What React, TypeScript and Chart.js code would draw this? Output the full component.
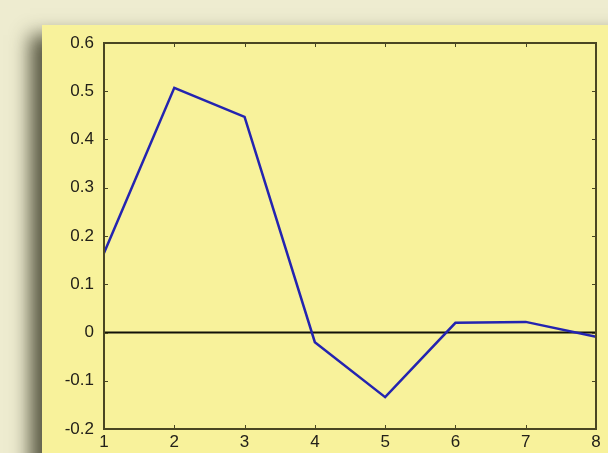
import React, { useEffect, useRef } from "react";
import { Chart, registerables } from "chart.js";

Chart.register(...registerables);

// Sample index on the horizontal axis and the measured response at each one
const xValues = [1, 2, 3, 4, 5, 6, 7, 8];
const yValues = [0.165, 0.507, 0.447, -0.02, -0.134, 0.02, 0.022, -0.009];

const xTicks = [1, 2, 3, 4, 5, 6, 7, 8];
const yTicks = [-0.2, -0.1, 0, 0.1, 0.2, 0.3, 0.4, 0.5, 0.6];

const PAGE_BG = "#eeecd0";
const PANEL_BG = "#f8f29b";
const AXIS_COLOR = "#4a4622";
const LINE_COLOR = "#2424b0";
const TEXT_COLOR = "#23211a";

// Paints the page background, the shaded yellow panel, the zero line,
// the frame round the plot and the inward tick marks.
const framePlugin = {
  id: "frame",
  beforeDraw(chart: any) {
    const { ctx, width, height } = chart;
    ctx.save();
    ctx.fillStyle = PAGE_BG;
    ctx.fillRect(0, 0, width, height);
    ctx.shadowColor = "rgba(50,50,30,0.8)";
    ctx.shadowBlur = 18;
    ctx.shadowOffsetX = -12;
    ctx.shadowOffsetY = 10;
    ctx.fillStyle = PANEL_BG;
    ctx.fillRect(42, 25, width - 42 + 40, height - 25 + 40);
    ctx.restore();
  },
  beforeDatasetsDraw(chart: any) {
    const { ctx, chartArea, scales } = chart;
    const y0 = scales.y.getPixelForValue(0);
    ctx.save();
    ctx.strokeStyle = "#111108";
    ctx.lineWidth = 2;
    ctx.beginPath();
    ctx.moveTo(chartArea.left, y0);
    ctx.lineTo(chartArea.right, y0);
    ctx.stroke();
    ctx.restore();
  },
  afterDraw(chart: any) {
    const { ctx, chartArea, scales } = chart;
    const { left, right, top, bottom } = chartArea;
    ctx.save();
    ctx.strokeStyle = AXIS_COLOR;
    ctx.lineWidth = 1;
    const len = 4;
    ctx.beginPath();
    for (const v of xTicks) {
      const px = Math.round(scales.x.getPixelForValue(v)) + 0.5;
      ctx.moveTo(px, bottom);
      ctx.lineTo(px, bottom - len);
      ctx.moveTo(px, top);
      ctx.lineTo(px, top + len);
    }
    for (const v of yTicks) {
      const py = Math.round(scales.y.getPixelForValue(v)) + 0.5;
      ctx.moveTo(left, py);
      ctx.lineTo(left + len, py);
      ctx.moveTo(right, py);
      ctx.lineTo(right - len, py);
    }
    ctx.stroke();
    ctx.lineWidth = 2;
    ctx.strokeRect(left, top, right - left, bottom - top);
    ctx.restore();
  },
};

export default function App() {
  const canvasRef = useRef<HTMLCanvasElement | null>(null);

  useEffect(() => {
    const canvas = canvasRef.current;
    if (!canvas) return;
    const font = { family: "'Liberation Sans', Arial, sans-serif", size: 17 };
    const chart = new Chart(canvas, {
      type: "line",
      data: {
        datasets: [
          {
            data: xValues.map((x, i) => ({ x, y: yValues[i] })),
            borderColor: LINE_COLOR,
            borderWidth: 2.5,
            pointRadius: 0,
            tension: 0,
            fill: false,
            clip: false as any,
          },
        ],
      },
      options: {
        animation: false,
        responsive: false,
        maintainAspectRatio: false,
        layout: { padding: { top: 43, right: 12, left: 0, bottom: 0 } },
        plugins: { legend: { display: false }, tooltip: { enabled: false } },
        scales: {
          x: {
            type: "linear",
            min: 1,
            max: 8,
            afterFit: (s: any) => {
              s.height = 24;
            },
            afterBuildTicks: (s: any) => {
              s.ticks = xTicks.map((v) => ({ value: v }));
            },
            grid: { display: false, drawTicks: false },
            border: { display: false },
            ticks: { color: TEXT_COLOR, font, padding: 3, maxRotation: 0 },
          },
          y: {
            type: "linear",
            min: -0.2,
            max: 0.6,
            afterFit: (s: any) => {
              s.width = 104;
            },
            afterBuildTicks: (s: any) => {
              s.ticks = yTicks.map((v) => ({ value: v }));
            },
            grid: { display: false, drawTicks: false },
            border: { display: false },
            ticks: {
              color: TEXT_COLOR,
              font,
              padding: 10,
              callback: (v: any) => {
                const n = Math.round(Number(v) * 10) / 10;
                return n === 0 ? "0" : n.toFixed(1);
              },
            },
          },
        },
      },
      plugins: [framePlugin],
    });
    return () => chart.destroy();
  }, []);

  return (
    <div style={{ position: "fixed", left: 0, top: 0, width: 608, height: 453 }}>
      <canvas ref={canvasRef} width={608} height={453} style={{ display: "block" }} />
    </div>
  );
}
